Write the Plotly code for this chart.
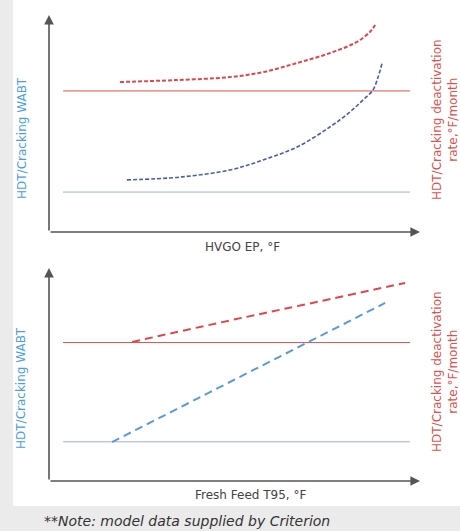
import plotly.graph_objects as go

# ---------------- data (relative units, 0-100) ----------------
# Top panel: HVGO EP
top_wabt_x = [21.0, 35.3, 48.8, 57.7, 66.9, 75.7, 81.1, 84.6, 87.3, 88.7, 89.8]
top_wabt_y = [24.0, 25.3, 28.6, 33.2, 39.2, 48.4, 55.3, 60.8, 65.4, 71.4, 77.9]
top_deact_x = [19.1, 34.0, 48.8, 57.7, 66.9, 75.8, 83.0, 86.5, 87.9]
top_deact_y = [69.1, 70.0, 71.4, 73.7, 77.9, 82.5, 87.6, 92.2, 95.4]

# Bottom panel: Fresh Feed T95
bot_wabt_x = [17.0, 48.8, 90.6]
bot_wabt_y = [18.3, 46.5, 83.6]
bot_deact_x = [22.4, 48.8, 67.7, 96.0]
bot_deact_y = [65.3, 75.4, 82.4, 93.0]

# Baselines (solid reference lines)
base_x = [3.8, 97.3]
base_wabt = [18.4, 18.4]
base_deact = [65.0, 65.0]

x_titles = ["HVGO EP, °F", "Fresh Feed T95, °F"]
left_title = "HDT/Cracking WABT"
right_title = "HDT/Cracking deactivation<br>rate,°F/month"
note = "**Note: model data supplied by Criterion"

W, H = 460, 531
RED = "#e0474c"
RED_SOLID = "#d9534f"
BLUE_TOP = "#4a5ea6"
BLUE_BOT = "#5b9bd5"
BLUE_SOLID = "#9fb0e0"
AX = "#555555"
FONT = "DejaVu Sans, Liberation Sans, Arial"

def px(v):
    return v / W

def py(v):
    return 1 - v / H

fig = go.Figure()

# top panel
fig.add_trace(go.Scatter(x=base_x, y=base_deact, mode="lines", line=dict(color=RED_SOLID, width=1), xaxis="x", yaxis="y"))
fig.add_trace(go.Scatter(x=base_x, y=base_wabt, mode="lines", line=dict(color=BLUE_SOLID, width=1), xaxis="x", yaxis="y"))
fig.add_trace(go.Scatter(x=top_deact_x, y=top_deact_y, mode="lines", line=dict(color=RED, width=2, dash="4px,2px", shape="spline"), xaxis="x", yaxis="y"))
fig.add_trace(go.Scatter(x=top_wabt_x, y=top_wabt_y, mode="lines", line=dict(color=BLUE_TOP, width=1.6, dash="4px,2px", shape="spline"), xaxis="x", yaxis="y"))

# bottom panel
fig.add_trace(go.Scatter(x=base_x, y=base_deact, mode="lines", line=dict(color=RED_SOLID, width=1), xaxis="x2", yaxis="y2"))
fig.add_trace(go.Scatter(x=base_x, y=base_wabt, mode="lines", line=dict(color=BLUE_SOLID, width=1), xaxis="x2", yaxis="y2"))
fig.add_trace(go.Scatter(x=bot_deact_x, y=bot_deact_y, mode="lines", line=dict(color=RED, width=2, dash="8px,5px", shape="spline"), xaxis="x2", yaxis="y2"))
fig.add_trace(go.Scatter(x=bot_wabt_x, y=bot_wabt_y, mode="lines", line=dict(color=BLUE_BOT, width=2, dash="8px,5px"), xaxis="x2", yaxis="y2"))

ax_common = dict(range=[0, 100], showgrid=False, zeroline=False, showticklabels=False, ticks="", showline=False, fixedrange=True)

annotations = []
for xr, yr in (("x", "y"), ("x2", "y2")):
    annotations.append(dict(x=100, y=0, ax=0, ay=0, xref=xr, yref=yr, axref=xr, ayref=yr,
                            showarrow=True, arrowhead=2, arrowsize=1.2, arrowwidth=1.6, arrowcolor=AX, text=""))
    annotations.append(dict(x=0, y=100, ax=0, ay=0, xref=xr, yref=yr, axref=xr, ayref=yr,
                            showarrow=True, arrowhead=2, arrowsize=1.2, arrowwidth=1.6, arrowcolor=AX, text=""))

label_font = dict(family=FONT, size=12)
annotations += [
    dict(text=left_title, x=px(22), y=py(138), xref="paper", yref="paper", textangle=-90, showarrow=False,
         font=dict(label_font, color="#4aa0dc"), xanchor="center", yanchor="middle"),
    dict(text=left_title, x=px(21), y=py(388), xref="paper", yref="paper", textangle=-90, showarrow=False,
         font=dict(label_font, color="#4aa0dc"), xanchor="center", yanchor="middle"),
    dict(text=right_title, x=px(445), y=py(120), xref="paper", yref="paper", textangle=-90, showarrow=False,
         font=dict(label_font, color=RED_SOLID), xanchor="center", yanchor="middle"),
    dict(text=right_title, x=px(445), y=py(372), xref="paper", yref="paper", textangle=-90, showarrow=False,
         font=dict(label_font, color=RED_SOLID), xanchor="center", yanchor="middle"),
    dict(text=x_titles[0], x=px(243), y=py(247), xref="paper", yref="paper", showarrow=False,
         font=dict(label_font, color="#444444"), xanchor="center", yanchor="middle"),
    dict(text=x_titles[1], x=px(250), y=py(495), xref="paper", yref="paper", showarrow=False,
         font=dict(label_font, color="#444444"), xanchor="center", yanchor="middle"),
    dict(text="<i>" + note + "</i>", x=px(42), y=py(521), xref="paper", yref="paper", showarrow=False,
         font=dict(family=FONT, size=14, color="#333333"), xanchor="left", yanchor="middle"),
]

fig.update_layout(
    width=W, height=H,
    margin=dict(l=0, r=0, t=0, b=0),
    paper_bgcolor="#ebebeb",
    plot_bgcolor="rgba(0,0,0,0)",
    showlegend=False,
    xaxis=dict(ax_common, domain=[px(49), px(420)], anchor="y"),
    yaxis=dict(ax_common, domain=[py(232), py(15)], anchor="x"),
    xaxis2=dict(ax_common, domain=[px(49), px(420)], anchor="y2"),
    yaxis2=dict(ax_common, domain=[py(481), py(268)], anchor="x2"),
    shapes=[dict(type="rect", xref="paper", yref="paper", x0=px(13), x1=1.0, y0=py(506), y1=1.0,
                 fillcolor="white", line=dict(width=0), layer="below")],
    annotations=annotations,
)

fig.write_html(
    "out.html",
    config={"displayModeBar": False},
    post_script="document.body.style.margin='0';document.body.style.overflow='hidden';document.body.style.background='#ebebeb';",
)
